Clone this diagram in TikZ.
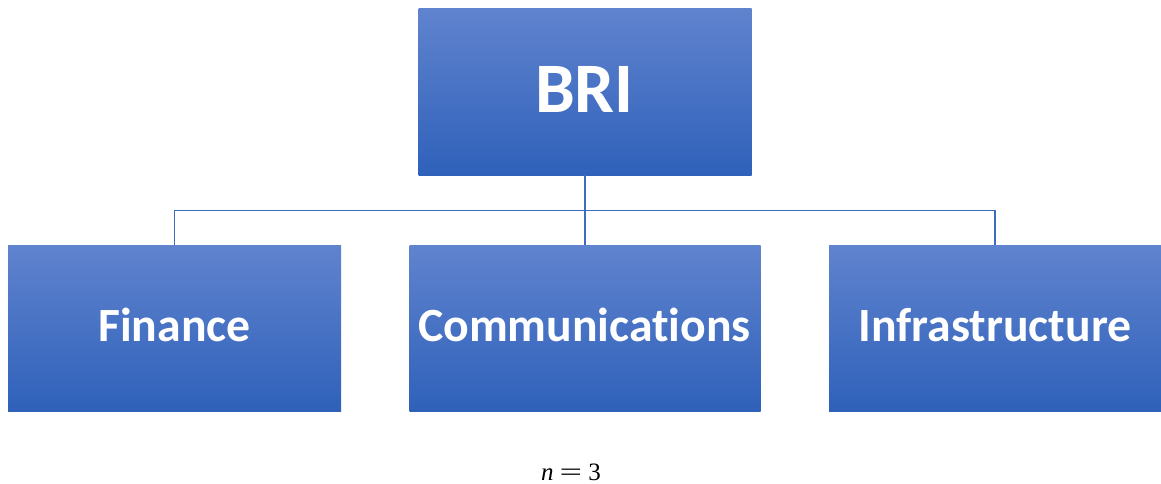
\documentclass[tikz,border=0pt]{standalone}
\usepackage{graphicx}
\usepackage{fontspec}
\setmainfont[Ligatures=NoCommon]{Carlito}
\newfontfamily\timesfont{Liberation Serif}
\definecolor{boxtop}{RGB}{96,131,206}
\definecolor{boxbot}{RGB}{47,97,186}
\definecolor{linkblue}{RGB}{62,108,192}
\begin{document}
\begin{tikzpicture}[x=1pt,y=-1pt,
  unit/.style={rectangle, inner sep=0pt, top color=boxtop, bottom color=boxbot, draw=none},
  label/.style={text=white, anchor=base, inner sep=0pt},
  sublabel/.style={label, font=\fontsize{47.7}{48}\selectfont\bfseries},
  link/.style={draw=linkblue, line width=1.4pt}]
  \useasboundingbox (0,0) rectangle (1161,484);
  % boxes
  \node[unit, minimum width=333pt, minimum height=166pt] (bri) at (585,92) {};
  \node[unit, minimum width=333pt, minimum height=166pt] (fin) at (174.5,328) {};
  \node[unit, minimum width=351pt, minimum height=166pt] (com) at (585,328) {};
  \node[unit, minimum width=332pt, minimum height=166pt] (inf) at (995,328) {};
  % labels
  \node[label, font=\fontsize{71}{71}\selectfont\bfseries] (tbri) at (584.5,113) {BRI};
  \node[sublabel] (tfin) at (174.5,341.5) {Finance};
  \node[sublabel] (tcom) at (584.5,341.5) {Communications};
  \node[sublabel] (tinf) at (995,341.5) {Infrastructure};
  % connectors
  \coordinate (bus) at (585,210.5);
  \draw[link] (bri.south) -- (bus);
  \draw[link] (fin.north) |- (bus);
  \draw[link] (inf.north) |- (bus);
  \draw[link] (bus) -- (com.north);
  % caption
  \node[anchor=base west, inner sep=0pt, font=\timesfont\fontsize{25}{25}\selectfont] (cap) at (541,480)
    {\textit{n}\hspace{6pt}\scalebox{1.6}[1]{=}\hspace{6pt}3};
\end{tikzpicture}
\end{document}
